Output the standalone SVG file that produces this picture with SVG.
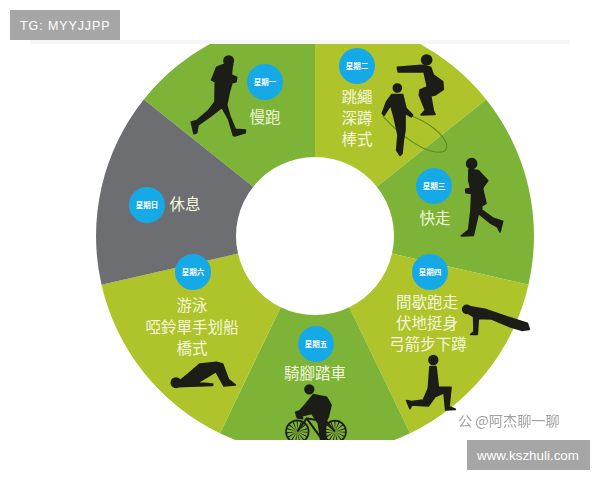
<svg xmlns="http://www.w3.org/2000/svg" width="600" height="480" viewBox="0 0 600 480">
<style>
.g1{fill:#7db437}.g2{fill:#aec42a}.gy{fill:#6d6e72}
.b{fill:#16a9e8}
.d{font-family:"Noto Sans CJK TC","Noto Sans CJK SC",sans-serif;font-size:7.5px;font-weight:700;fill:#fff;text-anchor:middle}
.l{font-family:"Noto Sans CJK TC","Noto Sans CJK SC",sans-serif;font-size:15.5px;fill:#f3f7dc;text-anchor:middle}
.s{fill:#1d1d17;stroke:#1d1d17;stroke-width:5;stroke-linejoin:round}
.tag{fill:#a6a6a6}
.tt{font-family:"Liberation Sans",Arial,sans-serif;fill:#fff}
</style>
<defs>
<clipPath id="wheelClip"><rect x="0" y="44" width="600" height="396"/></clipPath>
<filter id="soft" x="-5%" y="-20%" width="110%" height="140%"><feGaussianBlur stdDeviation="0.6"/></filter>
</defs>
<rect width="600" height="480" fill="#fff"/>
<rect x="30" y="40" width="540" height="4" fill="#f6f6f6"/>
<g id="wheel" clip-path="url(#wheelClip)">
<g id="mon"><path class="g1" d="M315 157L315 17A219 219 0 0 0 143.8 99.5L253.2 186.7A79 79 0 0 1 315 157Z"/></g>
<g id="tue"><path class="g2" d="M315 157L315 17A219 219 0 0 1 486.2 99.5L376.8 186.7A79 79 0 0 0 315 157Z"/></g>
<g id="wed"><path class="g1" d="M376.8 186.7L486.2 99.5A219 219 0 0 1 528.5 284.7L392 253.6A79 79 0 0 0 376.8 186.7Z"/></g>
<g id="thu"><path class="g2" d="M392 253.6L528.5 284.7A219 219 0 0 1 410 433.3L349.3 307.2A79 79 0 0 0 392 253.6Z"/></g>
<g id="fri"><path class="g1" d="M349.3 307.2L410 433.3A219 219 0 0 1 220 433.3L280.7 307.2A79 79 0 0 0 349.3 307.2Z"/></g>
<g id="sat"><path class="g2" d="M280.7 307.2L220 433.3A219 219 0 0 1 101.5 284.7L238 253.6A79 79 0 0 0 280.7 307.2Z"/></g>
<g id="sun"><path class="gy" d="M238 253.6L101.5 284.7A219 219 0 0 1 143.8 99.5L253.2 186.7A79 79 0 0 0 238 253.6Z"/></g>
</g>
<g id="figure-run" class="s" transform="translate(170,30) scale(0.3333)">
<circle cx="176" cy="92" r="14"/>
<path d="M165 102L188 104L186 112L184 135L200 142L198 155L186 158L178 185L170 225L180 260L196 298L226 300L226 308L194 318L190 316L176 268L156 232L122 258L84 285L80 308L72 311L64 276L80 272L115 242L135 215L136 155L125 150L140 112Z"/>
</g>
<g id="figure-squat-rope" transform="translate(370,50) scale(0.3333)">
<path d="M38 198C70 235 110 270 160 295C200 312 235 312 230 285C222 250 170 215 125 198" fill="none" stroke="#5e8f1e" stroke-width="3.5"/>
<g class="s">
<circle cx="170" cy="30" r="15"/>
<path d="M82 52L155 46L182 52L190 75L218 95L220 118L195 135L182 138L190 183L195 193L153 195L166 180L148 135L150 120L172 110L162 65L85 66Z"/>
<circle cx="82" cy="114" r="12"/>
<path d="M65 134L98 134L108 175L128 195L124 200L105 190L105 240L100 270L96 310L90 316L80 300L84 255L72 200L62 165L42 196L37 190L50 155Z"/>
</g>
</g>
<g id="figure-walk" class="s" transform="translate(440,150) scale(0.3333)">
<circle cx="95" cy="41" r="15"/>
<path d="M87 58L115 62L143 92L130 110L128 118L138 160L125 168L125 180L160 205L188 214L180 246L172 230L150 218L115 190L100 256L64 258L86 240L93 180L95 130L78 128L77 118L92 115L86 90Z"/>
</g>
<g id="figure-pushup" class="s" transform="translate(370,150) scale(0.3333)">
<circle cx="290" cy="478" r="12"/>
<path d="M298 470L345 478L400 497L472 520L478 538L455 541L420 530L365 507L325 505L322 553L302 553L312 545L311 500L290 488Z"/>
</g>
<g id="figure-lunge" class="s" transform="translate(370,150) scale(0.3333)">
<circle cx="190" cy="630" r="13"/>
<path d="M180 650L198 650L205 712L243 712L237 770L256 778L227 780L222 728L195 740L175 768L125 765L120 776L110 752L125 755L160 750L175 715Z"/>
</g>
<g id="figure-bridge" class="s" transform="translate(100,250) scale(0.3333)">
<circle cx="228" cy="398" r="14"/>
<path d="M240 392L265 372L300 342L350 337L368 342L385 388L406 405L372 408L348 365L315 385L292 398L338 402L338 406L232 410Z"/>
</g>
<g id="figure-bike" clip-path="url(#wheelClip)">
<g transform="translate(270,380) scale(0.3333)">
<g fill="none" stroke="#1d1d17">
<circle cx="82" cy="155" r="34" stroke-width="5"/>
<circle cx="195" cy="155" r="33" stroke-width="5"/>
<circle cx="82" cy="155" r="17" stroke-width="30" stroke-dasharray="2 5"/>
<circle cx="195" cy="155" r="17" stroke-width="30" stroke-dasharray="2 5"/>
<path d="M82 155L110 115L170 125L195 155M110 115L150 170L170 125" stroke-width="6"/>
</g>
<g class="s">
<circle cx="118" cy="28" r="13"/>
<path d="M130 44L170 52L183 75L175 110L165 130L168 178L152 178L145 130L125 100L95 108L98 116L82 113L77 97L90 92L105 75Z"/>
</g>
</g>
</g>
<g id="day-mon"><circle class="b" cx="265" cy="82" r="18"/><text class="d" x="265" y="85">星期一</text><text class="l" x="265" y="123">慢跑</text></g>
<g id="day-tue"><circle class="b" cx="357" cy="66" r="18"/><text class="d" x="357" y="69">星期二</text><text class="l" x="357" y="103">跳繩</text><text class="l" x="357" y="124">深蹲</text><text class="l" x="357" y="145">棒式</text></g>
<g id="day-wed"><circle class="b" cx="434" cy="186" r="18"/><text class="d" x="434" y="189">星期三</text><text class="l" x="435" y="224">快走</text></g>
<g id="day-thu"><circle class="b" cx="430" cy="272" r="18"/><text class="d" x="430" y="275">星期四</text><text class="l" x="427" y="308">間歇跑走</text><text class="l" x="427" y="329">伏地挺身</text><text class="l" x="428" y="350">弓箭步下蹲</text></g>
<g id="day-fri"><circle class="b" cx="316" cy="344" r="18"/><text class="d" x="316" y="347">星期五</text><text class="l" x="315" y="379">騎腳踏車</text></g>
<g id="day-sat"><circle class="b" cx="193" cy="272" r="18"/><text class="d" x="193" y="275">星期六</text><text class="l" x="192" y="311">游泳</text><text class="l" x="192" y="333">啞鈴單手划船</text><text class="l" x="192" y="354">橋式</text></g>
<g id="day-sun"><circle class="b" cx="147" cy="205" r="18"/><text class="d" x="147" y="208">星期日</text><text class="l" x="185" y="210">休息</text></g>
<g id="watermark" filter="url(#soft)"><text x="458" y="426" font-family="'Noto Sans CJK SC',sans-serif" font-size="14.2" fill="#a0a0a0">公 @阿杰聊一聊</text></g>
<g id="tag-top"><rect class="tag" x="10" y="10" width="110" height="30"/><text class="tt" x="20" y="30" font-size="12.5" letter-spacing="0.9">TG: MYYJJPP</text></g>
<g id="tag-bottom"><rect class="tag" x="467" y="440" width="123" height="30"/><text class="tt" x="477" y="460" font-size="13.4">www.kszhuli.com</text></g>
</svg>
